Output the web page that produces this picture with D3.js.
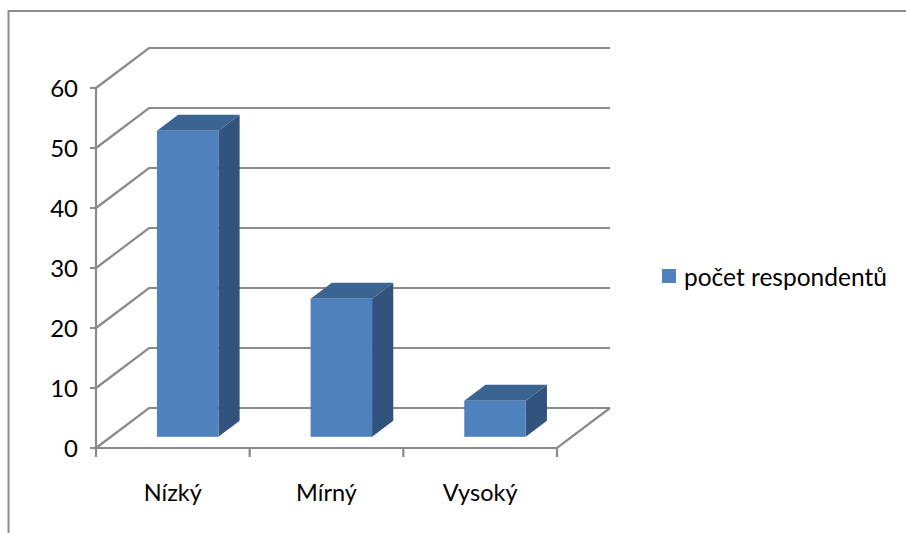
<!DOCTYPE html>
<html>
<head>
<meta charset="utf-8">
<script src="https://cdn.jsdelivr.net/npm/d3@7"></script>
<style>
  html, body { margin: 0; padding: 0; background: #fff; }
  svg { display: block; }
  text { font-family: Lato, "Open Sans", sans-serif; fill: #000; }
</style>
</head>
<body>
<svg id="chart" width="906" height="533"></svg>
<script>
// Data
const categories = ["Nízký", "Mírný", "Vysoký"];
const values = [51, 23, 6];
const seriesName = "počet respondentů";
const yTicks = [0, 10, 20, 30, 40, 50, 60];

(function () {
  const svg = d3.select("#chart");

  // Front plane geometry and the oblique depth vector of the 3-D box
  const plotLeft = 96, plotRight = 557, plotBottom = 448, plotTop = 88;
  const DX = 53, DY = -40;
  const frontDepth = 0.28, backDepth = 0.68;   // bar depth range within the box
  const barFrac = 0.40;                          // bar width as share of a band

  const x = d3.scaleBand().domain(categories).range([plotLeft, plotRight]).padding(0);
  const y = d3.scaleLinear().domain([0, 60]).range([plotBottom, plotTop]);

  const grid = "#8a8a8a";

  // Chart area border
  svg.append("rect")
    .attr("x", 8.5).attr("y", 11).attr("width", 920).attr("height", 540)
    .attr("fill", "none").attr("stroke", "#8c8c8c").attr("stroke-width", 2);

  // Back wall gridlines with their diagonals on the side wall
  const g = svg.append("g").attr("stroke", grid).attr("stroke-width", 2.2).attr("fill", "none");
  yTicks.forEach(t => {
    const yy = y(t);
    g.append("path").attr("d", `M${plotLeft},${yy}L${plotLeft + DX},${yy + DY}L${plotRight + DX},${yy + DY}`);
  });
  // Floor outline (front edge and right diagonal)
  g.append("path").attr("d", `M${plotLeft},${plotBottom}L${plotRight},${plotBottom}L${plotRight + DX},${plotBottom + DY}`);

  // Front value axis with ticks
  g.append("path").attr("d", `M${plotLeft},${y(60)}L${plotLeft},${plotBottom}`);
  yTicks.forEach(t => {
    g.append("path").attr("d", `M${plotLeft - 6},${y(t)}L${plotLeft},${y(t)}`);
  });
  // Category tick marks on the front edge
  const bounds = categories.map(c => x(c)).concat([plotRight]);
  bounds.forEach(bx => {
    g.append("path").attr("d", `M${bx},${plotBottom}L${bx},${plotBottom + 9}`);
  });

  // Value labels
  svg.append("g").selectAll("text").data(yTicks).join("text")
    .attr("x", 78).attr("y", d => y(d)).attr("dy", "0.36em")
    .attr("text-anchor", "end").attr("font-size", 24).text(d => d);

  // Category labels
  svg.append("g").selectAll("text").data(categories).join("text")
    .attr("x", d => x(d) + x.bandwidth() / 2).attr("y", 501)
    .attr("text-anchor", "middle").attr("font-size", 23.5).text(d => d);

  // 3-D bars
  const bw = x.bandwidth() * barFrac;
  const fdx = frontDepth * DX, fdy = frontDepth * DY;
  const sdx = (backDepth - frontDepth) * DX, sdy = (backDepth - frontDepth) * DY;
  const bars = svg.append("g");
  categories.forEach((c, i) => {
    const cx = x(c) + x.bandwidth() / 2 + fdx;
    const x0 = cx - bw / 2, x1 = cx + bw / 2;
    const yb = y(0) + fdy, yt = y(values[i]) + fdy;
    // side face
    bars.append("path")
      .attr("d", `M${x1},${yt}L${x1 + sdx},${yt + sdy}L${x1 + sdx},${yb + sdy}L${x1},${yb}Z`)
      .attr("fill", "#32537d");
    // top face
    bars.append("path")
      .attr("d", `M${x0},${yt}L${x1},${yt}L${x1 + sdx},${yt + sdy}L${x0 + sdx},${yt + sdy}Z`)
      .attr("fill", "#3c6493");
    // front face
    bars.append("rect")
      .attr("x", x0).attr("y", yt).attr("width", bw).attr("height", yb - yt)
      .attr("fill", "#4f81bd");
  });

  // Legend
  const lg = svg.append("g");
  lg.append("rect").attr("x", 662).attr("y", 269).attr("width", 14).attr("height", 14).attr("fill", "#4f81bd");
  lg.append("text").attr("x", 684).attr("y", 286).attr("font-size", 24.5).text(seriesName);
})();
</script>
</body>
</html>
